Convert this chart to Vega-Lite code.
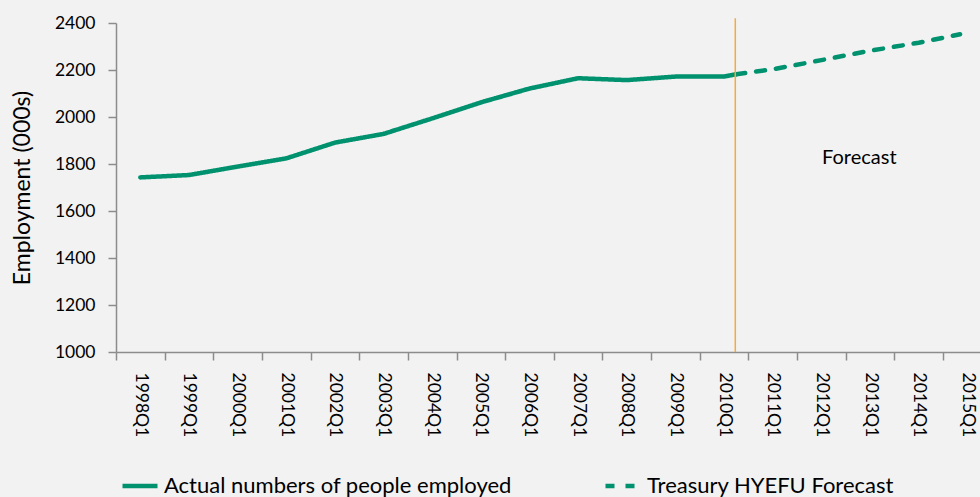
{
  "$schema": "https://vega.github.io/schema/vega-lite/v6.json",
  "autosize": "none",
  "padding": {"left": 116, "top": 23, "right": 0, "bottom": 145},
  "width": 864,
  "height": 329,
  "background": "#f2f2f2",
  "config": {
    "view": {"stroke": null},
    "font": "Lato",
    "axis": {"domainColor": "#8c8c8c", "tickColor": "#8c8c8c", "domainWidth": 1.5, "tickWidth": 1.5, "grid": false, "labelColor": "#000000", "titleColor": "#000000", "labelFont": "Lato", "titleFont": "Lato"}
  },
  "resolve": {"axis": {"x": "independent"}},
  "layer": [
    {
      "data": {"values": [
        {"t": 1998.0, "v": 1743, "series": "Actual numbers of people employed"},
        {"t": 1999.0, "v": 1753, "series": "Actual numbers of people employed"},
        {"t": 2000.0, "v": 1789, "series": "Actual numbers of people employed"},
        {"t": 2001.0, "v": 1824, "series": "Actual numbers of people employed"},
        {"t": 2002.0, "v": 1891, "series": "Actual numbers of people employed"},
        {"t": 2003.0, "v": 1928, "series": "Actual numbers of people employed"},
        {"t": 2004.0, "v": 1994, "series": "Actual numbers of people employed"},
        {"t": 2005.0, "v": 2062, "series": "Actual numbers of people employed"},
        {"t": 2006.0, "v": 2121, "series": "Actual numbers of people employed"},
        {"t": 2007.0, "v": 2165, "series": "Actual numbers of people employed"},
        {"t": 2008.0, "v": 2157, "series": "Actual numbers of people employed"},
        {"t": 2009.0, "v": 2172, "series": "Actual numbers of people employed"},
        {"t": 2010.0, "v": 2172, "series": "Actual numbers of people employed"},
        {"t": 2010.25, "v": 2182, "series": "Actual numbers of people employed"},
        {"t": 2010.25, "v": 2182, "series": "Treasury HYEFU Forecast"},
        {"t": 2011.0, "v": 2203, "series": "Treasury HYEFU Forecast"},
        {"t": 2012.0, "v": 2242, "series": "Treasury HYEFU Forecast"},
        {"t": 2013.0, "v": 2282, "series": "Treasury HYEFU Forecast"},
        {"t": 2014.0, "v": 2316, "series": "Treasury HYEFU Forecast"},
        {"t": 2014.85, "v": 2352, "series": "Treasury HYEFU Forecast"}
      ]},
      "mark": {"type": "line", "strokeWidth": 4.5, "strokeCap": "round", "strokeJoin": "round"},
      "encoding": {
        "x": {
          "field": "t", "type": "quantitative",
          "scale": {"domain": [1997.5, 2015.26], "nice": false, "zero": false},
          "axis": {
            "title": null,
            "orient": "bottom",
            "values": [1998, 1999, 2000, 2001, 2002, 2003, 2004, 2005, 2006, 2007, 2008, 2009, 2010, 2011, 2012, 2013, 2014, 2015],
            "labelExpr": "datum.value + 'Q1'",
            "ticks": false,
            "tickSize": 0,
            "labelAngle": 90,
            "labelAlign": "left",
            "labelBaseline": "middle",
            "labelPadding": 20,
            "labelFontSize": 17.5,
            "labelOverlap": false,
            "labelFlush": false
          }
        },
        "y": {
          "field": "v", "type": "quantitative",
          "scale": {"domain": [1000, 2400], "nice": false, "zero": false},
          "axis": {
            "title": "Employment (000s)",
            "values": [1000, 1200, 1400, 1600, 1800, 2000, 2200, 2400],
            "format": "d",
            "tickSize": 8,
            "labelPadding": 13,
            "labelFontSize": 17.5,
            "titleFontSize": 23,
            "titleFontWeight": "normal",
            "titlePadding": 20,
            "labelFlush": false
          }
        },
        "color": {
          "field": "series", "type": "nominal",
          "scale": {"domain": ["Actual numbers of people employed", "Treasury HYEFU Forecast"], "range": ["#00916f", "#00916f"]},
          "legend": {
            "title": null,
            "orient": "none",
            "legendX": 4,
            "legendY": 443,
            "direction": "horizontal",
            "symbolType": "stroke",
            "symbolSize": 1225,
            "symbolStrokeWidth": 4.5,
            "labelFont": "Lato",
            "labelFontSize": 22,
            "labelColor": "#000000",
            "labelOffset": 4,
            "columnPadding": 84,
            "labelLimit": 500
          }
        },
        "strokeDash": {
          "field": "series", "type": "nominal",
          "scale": {"domain": ["Actual numbers of people employed", "Treasury HYEFU Forecast"], "range": [[1, 0], [9, 11]]},
          "legend": {
            "title": null,
            "orient": "none",
            "legendX": 4,
            "legendY": 443,
            "direction": "horizontal",
            "symbolType": "stroke",
            "symbolSize": 1225,
            "symbolStrokeWidth": 4.5,
            "labelFont": "Lato",
            "labelFontSize": 22,
            "labelColor": "#000000",
            "labelOffset": 4,
            "columnPadding": 84,
            "labelLimit": 500
          }
        }
      }
    },
    {
      "data": {"values": [{"t": 2010.23, "lo": 1000, "hi": 2420}]},
      "mark": {"type": "rule", "color": "#f7a93b", "strokeWidth": 1.5},
      "encoding": {
        "x": {
          "field": "t", "type": "quantitative",
          "axis": {
            "title": null,
            "orient": "bottom",
            "values": [1997.5, 1998.5, 1999.5, 2000.5, 2001.5, 2002.5, 2003.5, 2004.5, 2005.5, 2006.5, 2007.5, 2008.5, 2009.5, 2010.5, 2011.5, 2012.5, 2013.5, 2014.5],
            "labels": false,
            "domain": false,
            "tickSize": 8
          }
        },
        "y": {"field": "lo", "type": "quantitative"},
        "y2": {"field": "hi"}
      }
    },
    {
      "data": {"values": [{"t": 2012.78, "v": 1826, "label": "Forecast"}]},
      "mark": {"type": "text", "fontSize": 20, "font": "Lato", "color": "#000000", "align": "center", "baseline": "middle"},
      "encoding": {
        "x": {"field": "t", "type": "quantitative", "axis": null},
        "y": {"field": "v", "type": "quantitative"},
        "text": {"field": "label"}
      }
    }
  ]
}
